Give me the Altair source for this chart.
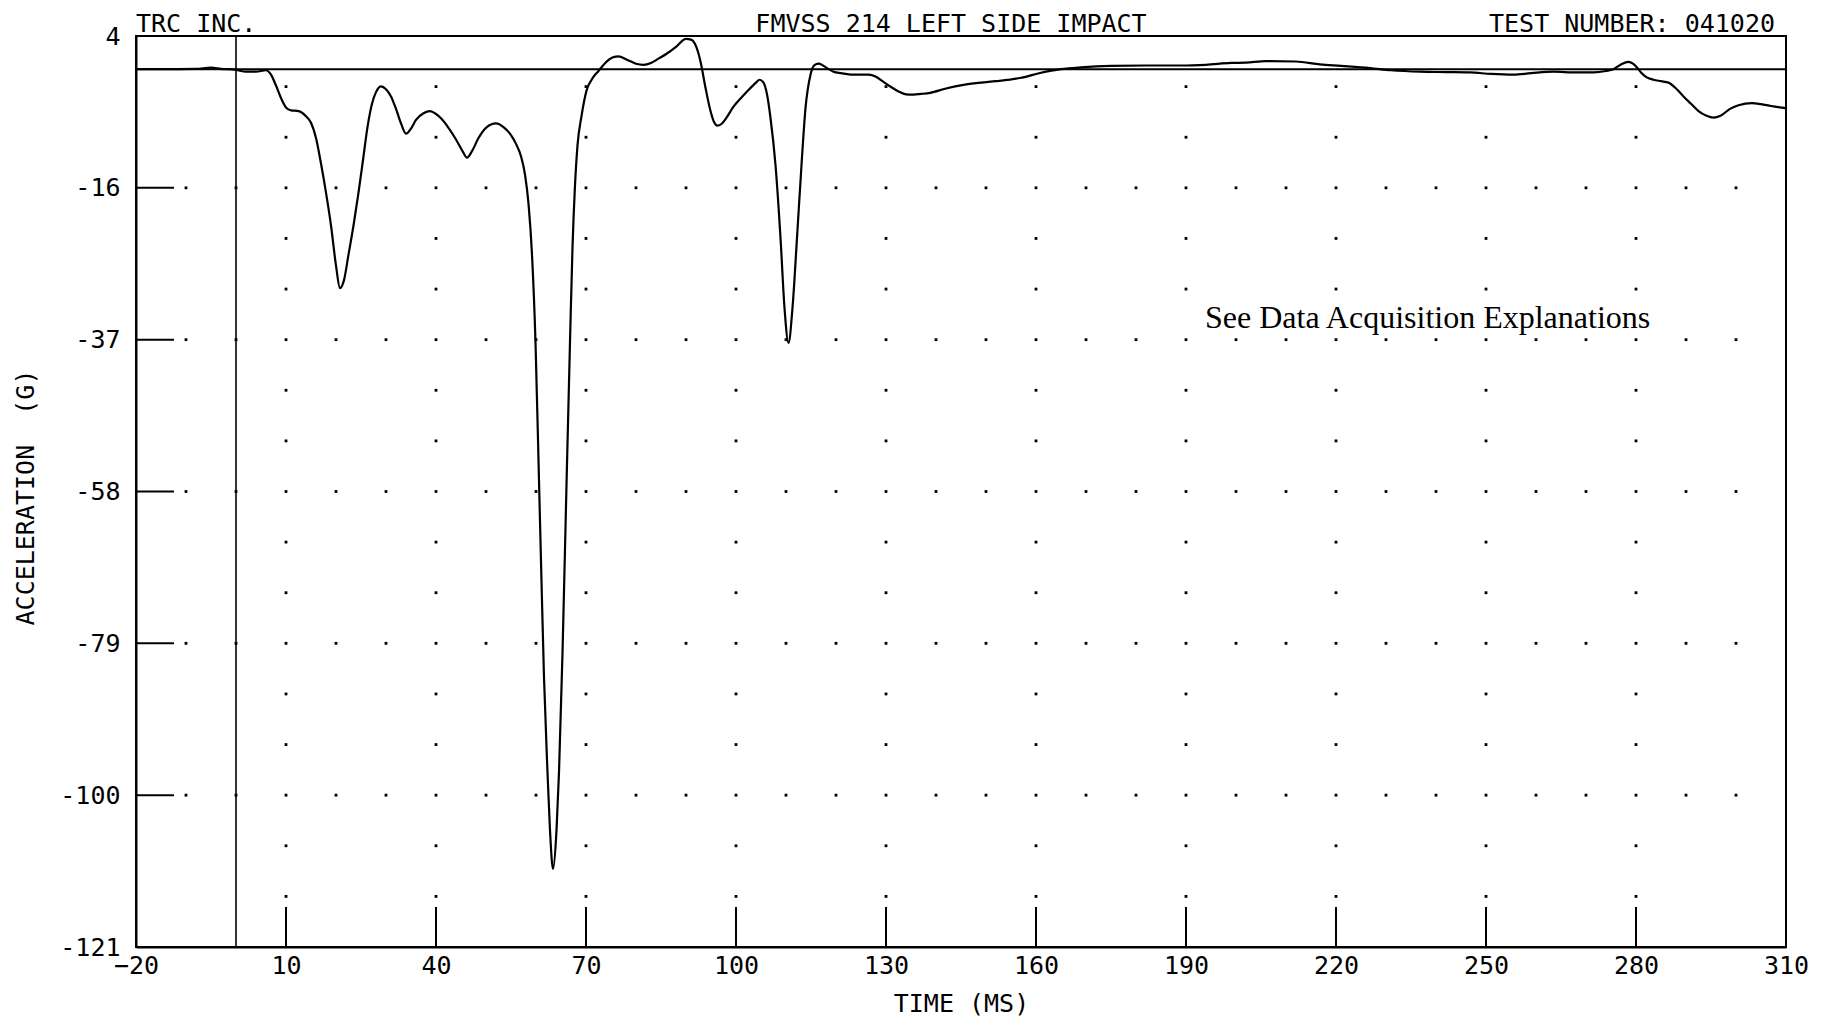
import json
import altair as alt
import pandas as pd

# ---------------- data ----------------
time_ms = [-20, -15, -8, -5, -3, 0, 2, 4, 6, 7, 8, 9, 10, 11, 12.5, 14, 15, 16, 17, 18,
           19, 20, 20.8, 21.6, 22.5, 23.5, 24.5, 25.5, 26.3, 27.2, 28, 29, 30, 31, 32, 33,
           34, 35, 36, 37.5, 38.8, 40, 41, 42.5, 44, 45.3, 46.2, 47.2, 48.5, 50, 52, 53.5,
           55, 56, 57, 57.8, 58.5, 59.2, 59.9, 60.6, 61.1, 61.6, 62.3, 62.8, 63.4, 64.1,
           64.6, 65.3, 66.1, 66.8, 67.3, 67.8, 68.3, 69.1, 70.1, 71.3, 72.5, 74, 75.5, 76.5,
           78.2, 80, 81.5, 83, 84.5, 86.2, 88, 90, 91, 92, 92.9, 93.9, 94.9, 95.6, 96.3,
           97.2, 98, 99.5, 101, 102.5, 104, 104.7, 105.5, 106.2, 106.9, 107.9, 108.9, 109.7,
           110.5, 111.3, 112.2, 113.1, 113.9, 114.9, 115.7, 116.5, 117.3, 118.2, 119.5, 121,
           123.5, 126.5, 128, 129.5, 131, 132.5, 134, 135.5, 137, 138.8, 142, 145.5, 149,
           152, 156.8, 160.8, 165, 169, 175, 182, 189, 194, 199, 202, 206, 212, 216.8, 221,
           226.8, 231, 236.8, 242, 246.8, 251, 255.5, 259, 263.5, 268, 271.5, 274, 275.5,
           277, 278.5, 279.4, 280.2, 281, 282, 283.5, 285, 286.5, 288, 289.5, 291, 292.5,
           294, 295.5, 297, 298.8, 300.5, 303.2, 305, 307, 310]
accel_g = [-0.55, -0.55, -0.5, -0.35, -0.5, -0.65, -0.9, -0.9, -0.7, -1.3, -2.8, -4.5, -5.8,
           -6.2, -6.3, -7.0, -7.9, -10, -13.5, -17.5, -22, -27.5, -30.6, -29.5, -26, -22,
           -17.5, -12.5, -8.5, -5.3, -3.7, -2.9, -3.3, -4.3, -6.0, -8.0, -9.4, -8.7, -7.5,
           -6.6, -6.3, -6.7, -7.3, -8.6, -10.2, -11.8, -12.7, -11.8, -10, -8.6, -8.0, -8.5,
           -9.6, -10.8, -12.5, -15, -19, -26, -38, -57, -70.8, -84, -97, -105, -110.3, -105,
           -97, -80.7, -57.6, -38, -25, -16.5, -11, -7, -3.5, -1.8, -0.8, 0.4, 1.1, 1.2,
           0.75, 0.2, 0.05, 0.3, 0.9, 1.6, 2.5, 3.6, 3.5, 2.6, 0.5, -3.1, -6.3, -7.8, -8.3,
           -8.0, -7.3, -5.7, -4.5, -3.4, -2.4, -2.0, -2.4, -4, -7.25, -13.7, -23.7, -33.3,
           -38.1, -33.3, -23.7, -13.7, -5.9, -1.3, 0.0, 0.2, 0.0, -0.4, -0.9, -1.1,
           -1.3, -1.3, -1.6, -2.3, -3.0, -3.6, -4.0, -4.05, -3.95, -3.8, -3.2, -2.7, -2.4,
           -2.2, -1.76, -1.08, -0.55, -0.3, -0.1, -0.05, -0.05, 0.05, 0.3, 0.35, 0.55, 0.5,
           0.1, -0.1, -0.4, -0.7, -0.9, -0.95, -1.0, -1.2, -1.3, -1.1, -0.9, -1.0, -1.0,
           -0.8, -0.55, 0.1, 0.46, 0.2, -0.32, -1.0, -1.6, -2.0, -2.2, -2.4, -3.2, -4.3,
           -5.3, -6.3, -6.9, -7.2, -6.9, -6.0, -5.5, -5.2, -5.35, -5.6, -5.9]

x_tick_values = [-20, 10, 40, 70, 100, 130, 160, 190, 220, 250, 280, 310]
y_tick_values = [4, -16.8333, -37.6667, -58.5, -79.3333, -100.1667, -121]
y_tick_labels = ["4", "-16", "-37", "-58", "-79", "-100", "-121"]
x_dot_step = 10          # dots every 10 ms on the major rows
reference_line_g = -0.55  # horizontal reference line as drawn
reference_line_ms = 0     # vertical reference line

header_left = "TRC INC."
header_center = "FMVSS 214 LEFT SIDE IMPACT"
header_right = "TEST NUMBER: 041020"
note_text = ["See Data Acquisition Explanations"]
note_ms = [193.8]
note_g = [-36.0]

# ---------------- derived tables ----------------
W, H = 1650, 911
MONO = "DejaVu Sans Mono"

curve = pd.DataFrame({"t": time_ms, "g": accel_g})

inner_x = x_tick_values[1:-1]
inner_y = y_tick_values[1:-1]
dot_x = list(range(x_tick_values[0] + x_dot_step, x_tick_values[-1], x_dot_step))
sub_y = []
for a, b in zip(y_tick_values[:-1], y_tick_values[1:]):
    sub_y += [a + (b - a) / 3, a + 2 * (b - a) / 3]
dots = [(x, y) for y in inner_y for x in dot_x] + [(x, y) for y in sub_y for x in inner_x]
dots_df = pd.DataFrame(dots, columns=["t", "g"])

y_step = (y_tick_values[0] - y_tick_values[-1]) / (len(y_tick_values) - 1)
y_label_expr = f"{json.dumps(y_tick_labels)}[round(({y_tick_values[0]} - datum.value) / {y_step})]"

xscale = alt.Scale(domain=[x_tick_values[0], x_tick_values[-1]], nice=False, zero=False)
yscale = alt.Scale(domain=[y_tick_values[-1], y_tick_values[0]], nice=False, zero=False)

x_axis = alt.Axis(values=x_tick_values, title="TIME (MS)", grid=False, ticks=False,
                  domainColor="black", domainWidth=2, labelFont=MONO, labelFontSize=25,
                  labelColor="black", labelPadding=6, labelFlush=False, labelOverlap=False,
                  titleFont=MONO, titleFontSize=25, titleFontWeight="normal",
                  titleColor="black", titlePadding=13, format="d")
y_axis = alt.Axis(values=y_tick_values, title="ACCELERATION\u00a0\u00a0(G)", grid=False,
                  ticks=False, domainColor="black", domainWidth=2, labelFont=MONO,
                  labelFontSize=25, labelColor="black", labelPadding=16,
                  labelOverlap=False, labelExpr=y_label_expr,
                  titleFont=MONO, titleFontSize=25, titleFontWeight="normal",
                  titleColor="black", titleAngle=270, titleX=-111, titleY=461,
                  titleAlign="center", titleBaseline="middle")

X = alt.X("t:Q", scale=xscale, axis=x_axis)
Y = alt.Y("g:Q", scale=yscale, axis=y_axis)

dot_layer = alt.Chart(dots_df).mark_square(size=8, color="black", opacity=1).encode(
    x=alt.X("t:Q", scale=xscale), y=alt.Y("g:Q", scale=yscale))

ytick_layer = alt.Chart(pd.DataFrame({"g": inner_y})).mark_rule(
    color="black", strokeWidth=2).encode(
    y=alt.Y("g:Q", scale=yscale), x=alt.value(0), x2=alt.value(38))
xtick_layer = alt.Chart(pd.DataFrame({"t": inner_x})).mark_rule(
    color="black", strokeWidth=2).encode(
    x=alt.X("t:Q", scale=xscale), y=alt.value(H), y2=alt.value(H - 40))

hline = alt.Chart(pd.DataFrame({"g": [reference_line_g]})).mark_rule(
    color="black", strokeWidth=2).encode(y=alt.Y("g:Q", scale=yscale))
vline = alt.Chart(pd.DataFrame({"t": [reference_line_ms]})).mark_rule(
    color="black", strokeWidth=1.6).encode(x=alt.X("t:Q", scale=xscale))

line = alt.Chart(curve).mark_line(color="black", strokeWidth=2.2,
                                  interpolate="monotone").encode(x=X, y=Y)

def header(txt, xpix, align):
    return alt.Chart(pd.DataFrame({"s": [txt]})).mark_text(
        font=MONO, fontSize=25, color="black", align=align, baseline="alphabetic").encode(
        text="s:N", x=alt.value(xpix), y=alt.value(-4))

h1 = header(header_left, 0, "left")
h2 = header(header_center, 815, "center")
h3 = header(header_right, 1639, "right")

note = alt.Chart(pd.DataFrame({"t": note_ms, "g": note_g, "s": note_text})).mark_text(
    font="Liberation Serif", fontSize=32, color="black", align="left",
    baseline="alphabetic").encode(
    x=alt.X("t:Q", scale=xscale), y=alt.Y("g:Q", scale=yscale), text="s:N")

chart = alt.layer(line, dot_layer, ytick_layer, xtick_layer, hline, vline, h1, h2, h3, note
                  ).properties(
    width=W, height=H,
    autosize=alt.AutoSizeParams(type="none"),
    padding={"left": 128, "top": 28, "right": 40, "bottom": 70},
    background="white",
).configure_view(stroke="black", strokeWidth=2)

chart.save("out.html", embed_options={"renderer": "svg", "actions": False})
